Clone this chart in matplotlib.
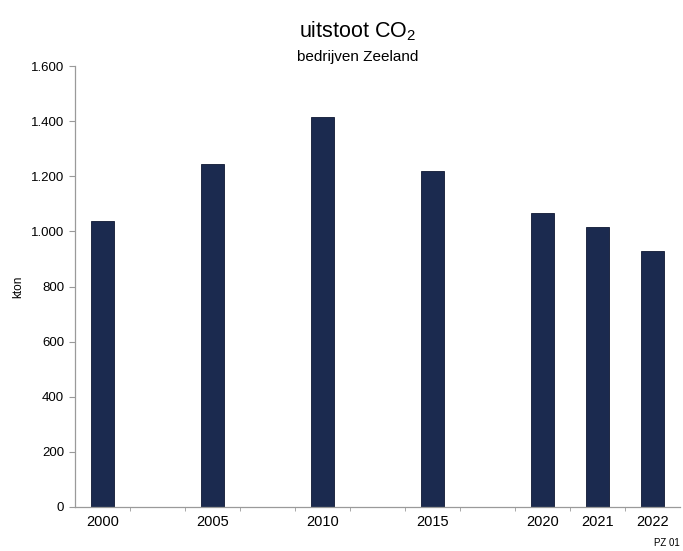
import numpy as np
import matplotlib.pyplot as plt
from matplotlib.ticker import FuncFormatter

plt.rcParams["font.family"] = ["Liberation Sans", "DejaVu Sans"]
plt.rcParams["mathtext.fontset"] = "custom"
plt.rcParams["mathtext.rm"] = "Liberation Sans"

# CO2 emissions of companies in Zeeland (kton)
years = ["2000", "", "2005", "", "2010", "", "2015", "", "2020", "2021", "2022"]
emissions = [1038, 0, 1245, 0, 1415, 0, 1219, 0, 1067, 1016, 929]

bar_color = "#1b2a4f"
axis_color = "#9a9a9a"

fig = plt.figure(figsize=(6.83, 5.51), dpi=100)
ax = fig.add_axes([0.110, 0.080, 0.886, 0.800])

x = np.arange(len(years))
for xi, v, lab in zip(x, emissions, years):
    if lab:
        ax.bar(xi, v, width=0.42, color=bar_color, edgecolor="#0e1733", linewidth=0.6)

ax.set_xlim(-0.5, len(years) - 0.5)
ax.set_ylim(0, 1600)
ax.set_yticks(np.arange(0, 1601, 200))
ax.yaxis.set_major_formatter(FuncFormatter(lambda v, p: f"{int(v):,}".replace(",", ".")))

ax.set_xticks(x)
ax.set_xticklabels(years)
ax.set_xticks(np.arange(0.5, len(years) - 0.5, 1), minor=True)
ax.tick_params(axis="x", which="major", length=0, labelsize=10.5, pad=6)
ax.tick_params(axis="x", which="minor", length=3, color=axis_color, direction="out")
ax.tick_params(axis="y", length=4, color=axis_color, labelsize=9.5, pad=4)

for side in ["top", "right"]:
    ax.spines[side].set_visible(False)
for side in ["left", "bottom"]:
    ax.spines[side].set_color(axis_color)
    ax.spines[side].set_linewidth(0.9)

ax.set_ylabel("kton", fontsize=8.5, labelpad=5)

fig.text(0.524, 0.943, r"uitstoot CO$\mathregular{_2}$", ha="center", va="center", fontsize=15.5)
fig.text(0.524, 0.897, "bedrijven Zeeland", ha="center", va="center", fontsize=11)
fig.text(0.995, 0.014, "PZ 01", ha="right", va="center", fontsize=7)

fig.savefig("out.png", dpi=100)
